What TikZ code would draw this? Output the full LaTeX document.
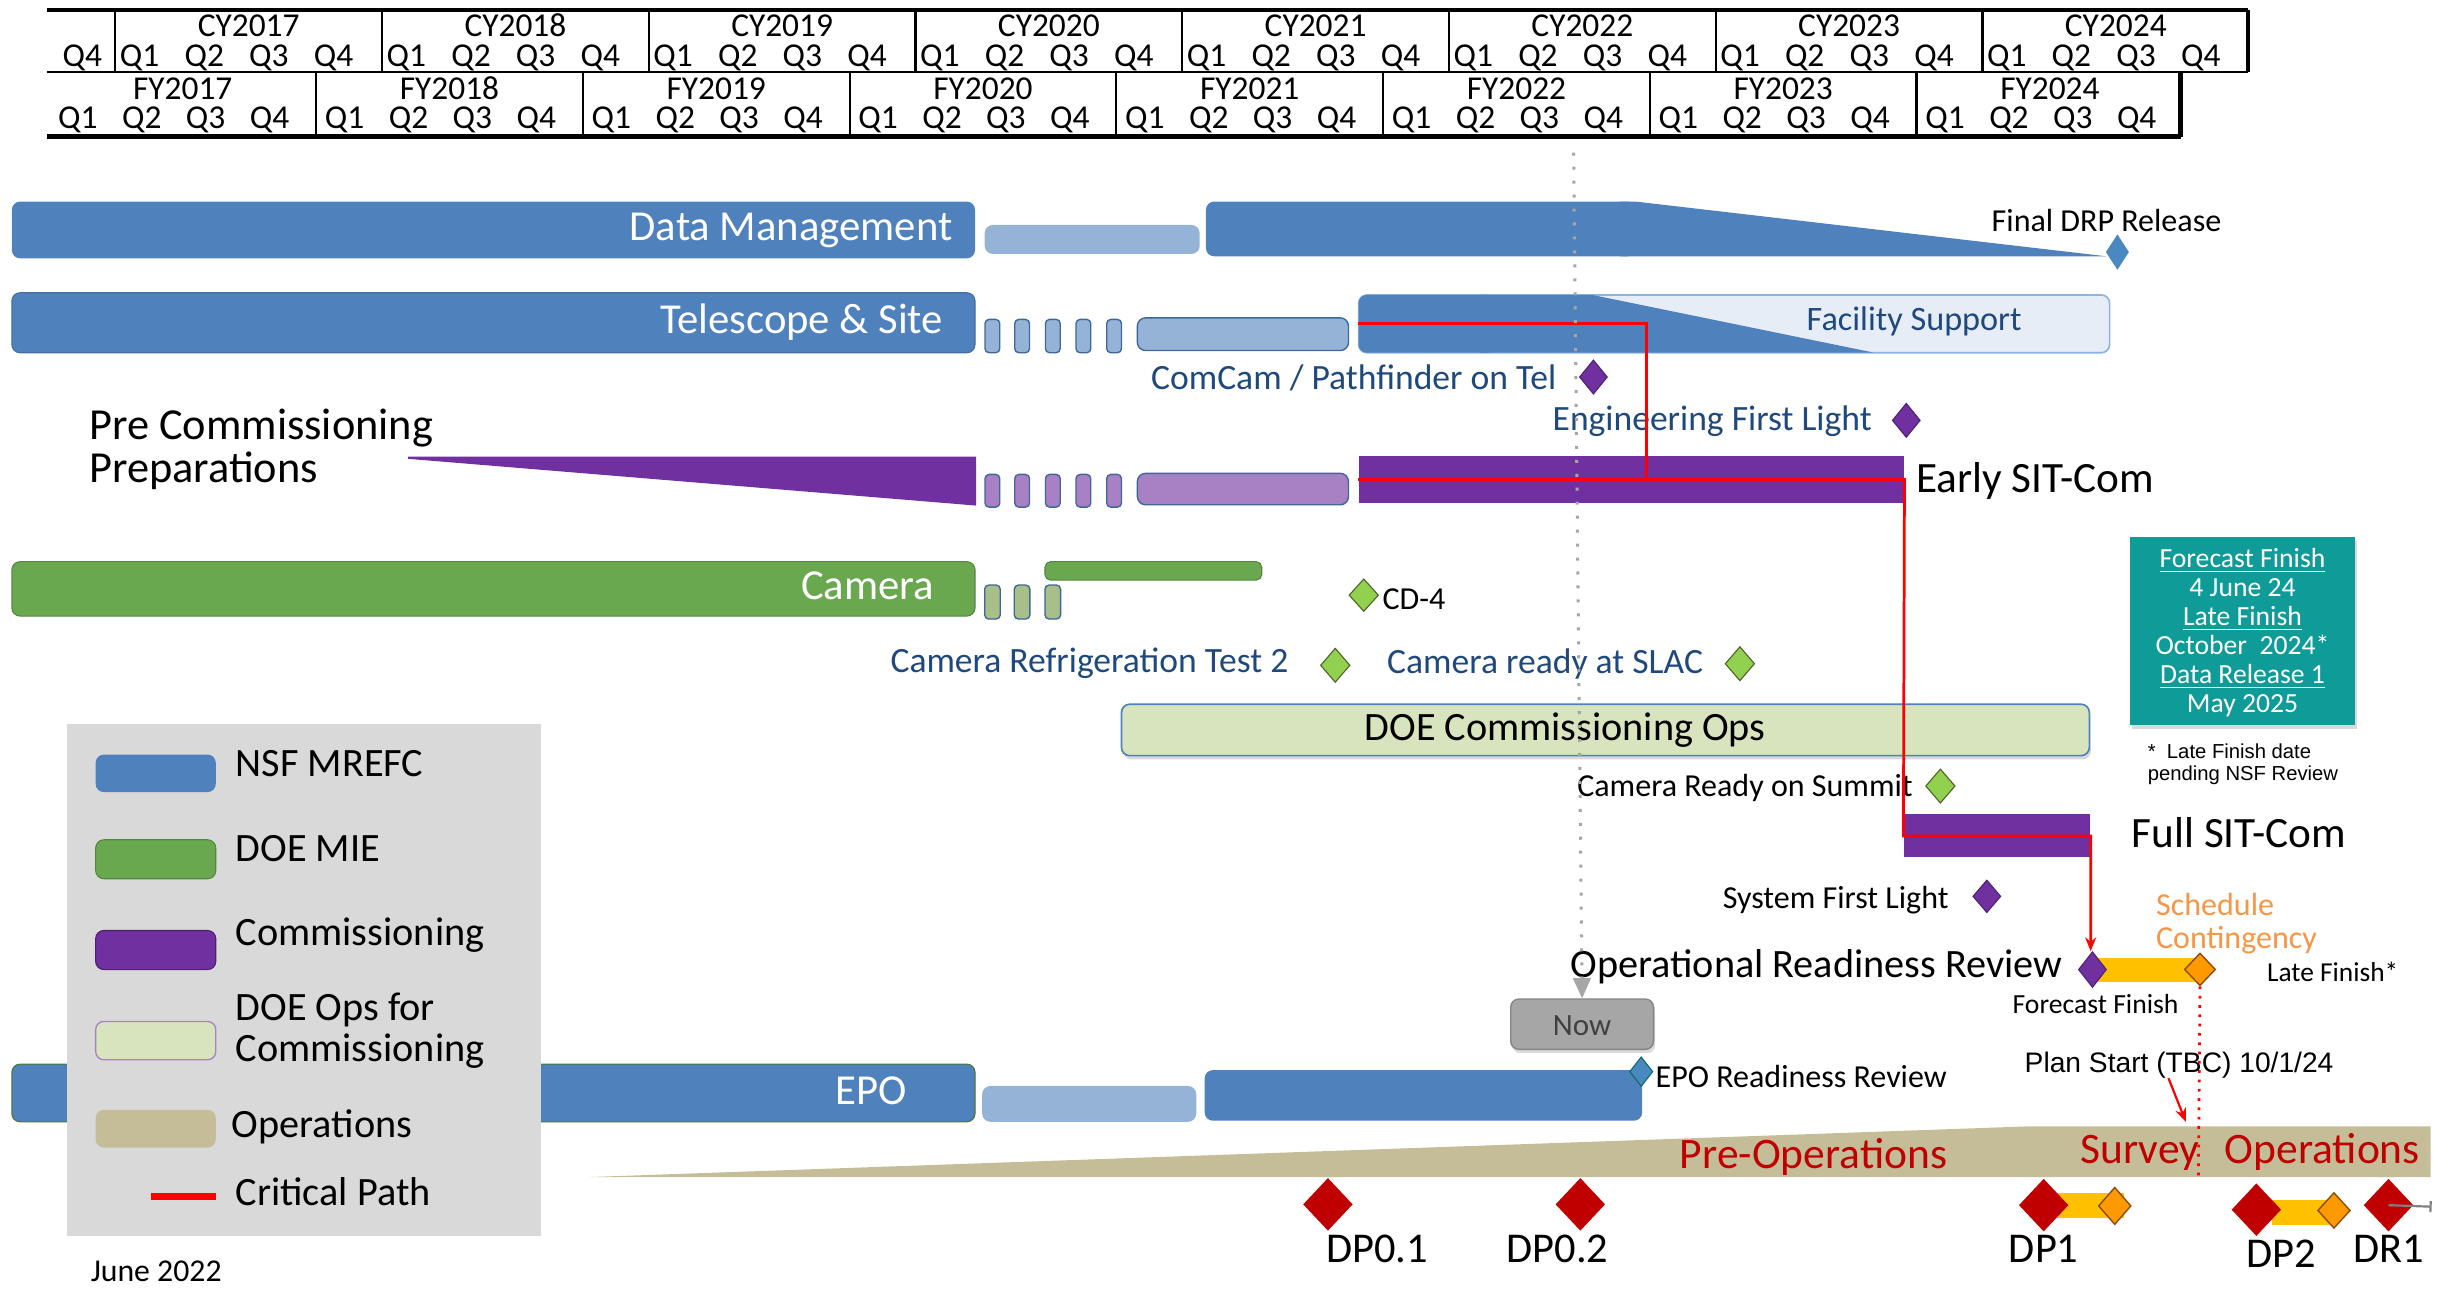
\documentclass[tikz,border=0pt]{standalone}
\usepackage{fontspec}
\setmainfont{Carlito}
\newfontfamily\arialfont{Liberation Sans}
\usepackage{tikz}
\usetikzlibrary{shapes.geometric,arrows.meta,fit,shadows}

\definecolor{nsfblue}{HTML}{4F81BD}
\definecolor{lightblue}{HTML}{95B3D7}
\definecolor{compurple}{HTML}{7030A0}
\definecolor{lightpurple}{HTML}{A781C3}
\definecolor{doegreen}{HTML}{6AA84F}
\definecolor{olivegreen}{HTML}{A9BF8A}
\definecolor{msgreen}{HTML}{92D050}
\definecolor{msgreenline}{HTML}{4F6228}
\definecolor{opsgreen}{HTML}{D7E4BD}
\definecolor{facfill}{HTML}{E6EDF7}
\definecolor{facline}{HTML}{8DB4E2}
\definecolor{opstan}{HTML}{C4BD97}
\definecolor{dpred}{HTML}{C00000}
\definecolor{contyellow}{HTML}{FFC000}
\definecolor{lateorange}{HTML}{FF9900}
\definecolor{lateline}{HTML}{8A4B08}
\definecolor{textblue}{HTML}{1F497D}
\definecolor{tealbox}{HTML}{0F9B98}
\definecolor{legendgray}{HTML}{D9D9D9}
\definecolor{nowgray}{HTML}{A6A6A6}
\definecolor{contorange}{HTML}{F79646}
\definecolor{drpblue}{HTML}{4A89BF}

\newcommand{\fsz}[2]{\fontsize{#1}{#2}\selectfont}

\begin{document}
\begin{tikzpicture}[x=0.02cm, y=-0.02cm,
    txt/.style={inner sep=0pt, text height=0.8em, text depth=0pt},
    hdr/.style={inner sep=0pt, text height=0.64em, text depth=0pt, font=\fsz{12.2}{12}},
    hdrline/.style={line width=0.8pt},
    hdrthick/.style={line width=1.6pt},
    bar/.style={inner sep=0pt, rounded corners=3pt},
    stepbar/.style={inner sep=0pt, rounded corners=1.5pt, fill=#1, draw=nsfblue!80!black, line width=0.5pt},
    barlabel/.style={txt, anchor=east, text=white, font=\fsz{15.6}{16}},
    tag/.style={txt, font=\fsz{11.7}{12}},
    bluetag/.style={txt, text=textblue, font=\fsz{13}{13}},
    bigtag/.style={txt, font=\fsz{15.8}{16}},
    keytext/.style={txt, anchor=west, font=\fsz{14.7}{15}},
    ms/.style={diamond, inner sep=0pt, minimum width=0.36cm, minimum height=0.44cm},
    purplems/.style={fill=compurple, draw=compurple!70!black, line width=0.4pt},
    greenms/.style={fill=msgreen, draw=msgreenline, line width=0.4pt},
    orangems/.style={fill=lateorange, draw=lateline, line width=0.5pt},
    dpms/.style={fill=dpred, minimum width=0.64cm, minimum height=0.68cm},
    dplabel/.style={txt, font=\fsz{15.5}{16}},
    opslabel/.style={txt, text=dpred, font=\fsz{15.9}{16}},
    critpath/.style={red, line width=1pt},
    nowline/.style={nowgray, line width=1.1pt, dash pattern=on 1.1pt off 4pt},
    softshadow/.style={drop shadow={opacity=0.3, shadow xshift=0.6pt, shadow yshift=-1.4pt}}
]
\useasboundingbox (0,0) rectangle (1568,828);

% calendar and fiscal year header
\draw[hdrthick] (30.2,6.4) -- (1443,6.4);
\draw[hdrline] (30.2,46) -- (1443,46);
\draw[hdrthick] (1443,6.4) -- (1443,46);
\draw[hdrthick] (30.2,87.7) -- (1399.6,87.7);
\draw[hdrthick] (1399.6,46) -- (1399.6,87.7);
\node[hdr] (cy2016-q4) at (52.9,37) {Q4};
\foreach \yr [count=\i from 0] in {2017,...,2024} {
  \draw[hdrline] (74+171.2*\i,6.4) -- (74+171.2*\i,46);
  \node[hdr] (cy\yr) at (159.6+171.2*\i,17.6) {CY\yr};
  \foreach \q in {1,...,4}
    \node[hdr] (cy\yr-q\q) at (89.6+171.2*\i+41.5*\q-41.5,37) {Q\q};
  \node[hdr] (fy\yr) at (117.3+171.2*\i,58) {FY\yr};
  \foreach \q in {1,...,4}
    \node[hdr] (fy\yr-q\q) at (50+171.2*\i+41*\q-41,77) {Q\q};
}
\foreach \i in {0,...,6}
  \draw[hdrline] (202.9+171.2*\i,46) -- (202.9+171.2*\i,87.7);

% data management
\node[bar, fill=nsfblue, fit={(7.6,129.4) (625.8,165.8)}] (dmbar) {};
\node[barlabel] (dmlabel) at (611.7,147.6) {Data Management};
\node[bar, fill=lightblue, fit={(632,144.4) (770,163)}] (dmgap) {};
\node[bar, fill=nsfblue, fit={(774,129.4) (1050,164.5)}] (dmrun) {};
\fill[nsfblue] (1040,129.4) -- (1050,129.4) -- (1352,164.5) -- (1040,164.5) -- cycle;
\node[ms, fill=drpblue, minimum width=0.3cm, minimum height=0.46cm] (drp) at (1359,161.8) {};
\node[tag] (drplabel) at (1352,141.6) {Final DRP Release};

% telescope and site
\node[bar, fill=nsfblue, draw=nsfblue!85!black, line width=0.4pt, fit={(7.6,187.9) (625.8,226.4)}] (tsbar) {};
\node[barlabel] (tslabel) at (605.7,207.2) {Telescope \& Site};
\foreach \x [count=\k] in {632.2,651.3,671,690.6,710.3}
  \node[stepbar=lightblue, fit={(\x,205) (\x+9.5,226.4)}] (tsstep\k) {};
\node[stepbar=lightblue, rounded corners=3pt, fit={(730,204) (865.5,225)}] (tsgap) {};
\node[bar, fill=facfill, draw=facline, line width=0.6pt, fit={(872,189.3) (1354,226.4)}] (facility) {};
\fill[nsfblue, rounded corners=3pt] (960,189.3) -- (872,189.3) -- (872,226.4) -- (960,226.4) -- cycle;
\fill[nsfblue] (950,189.3) -- (1022,189.3) -- (1203,226.4) -- (950,226.4) -- cycle;
\node[txt, text=textblue, font=\fsz{12.5}{13}] (faclabel) at (1228.6,205.4) {Facility Support};

\node[ms, purplems] (comcam) at (1022.7,242) {};
\node[bluetag, anchor=east] (comcamlabel) at (999.2,242.8) {ComCam / Pathfinder on Tel};
\node[ms, purplems] (efl) at (1223.5,269.8) {};
\node[bluetag, anchor=east] (efllabel) at (1201.7,269.1) {Engineering First Light};

% pre commissioning
\node[inner sep=0pt, anchor=west, align=left, font=\fsz{16.2}{15.8}] (prelabel) at (57,288.5) {Pre Commissioning\\Preparations};
\fill[compurple] (262,293) -- (626.5,293) -- (626.5,324.5) -- (262,294.5) -- cycle;
\foreach \x [count=\k] in {632.2,651.3,671,690.6,710.3}
  \node[stepbar=lightpurple, fit={(\x,304.5) (\x+9.5,325.5)}] (pcstep\k) {};
\node[stepbar=lightpurple, rounded corners=3pt, fit={(730,303.8) (865.5,324)}] (pcgap) {};
\node[fill=compurple, inner sep=0pt, fit={(872,292.5) (1222,323)}] (earlysit) {};
\node[bigtag, anchor=west] (earlylabel) at (1229.6,309) {Early SIT-Com};

% camera
\node[bar, fill=doegreen, draw=doegreen!80!black, line width=0.4pt, fit={(7.6,360.5) (625.8,395.4)}] (cambar) {};
\node[barlabel] (camlabel) at (600,378) {Camera};
\foreach \x [count=\k] in {632,651,670.7}
  \node[stepbar=olivegreen, fit={(\x,375.5) (\x+10,397.3)}] (camstep\k) {};
\node[bar, rounded corners=2pt, fill=doegreen, draw=doegreen!80!black, line width=0.4pt, fit={(670.7,360.5) (809.8,372.3)}] (camrun) {};
\node[ms, greenms, minimum width=0.38cm, minimum height=0.42cm] (cd4) at (875.3,382) {};
\node[tag, anchor=west] (cd4label) at (887,384) {CD-4};
\node[ms, greenms, minimum width=0.38cm, minimum height=0.44cm] (refrig) at (857,427) {};
\node[bluetag, anchor=east] (refriglabel) at (827.2,424.7) {Camera Refrigeration Test 2};
\node[ms, greenms, minimum width=0.38cm, minimum height=0.44cm] (slac) at (1116.7,426) {};
\node[bluetag, anchor=west] (slaclabel) at (890,425) {Camera ready at SLAC};

% commissioning
\node[bar, fill=opsgreen, draw=nsfblue, line width=0.6pt, softshadow, fit={(719.8,452) (1341,485)}] (doeops) {};
\node[txt, font=\fsz{14.7}{15}] (doelabel) at (1004.6,468.5) {DOE Commissioning Ops};
\node[ms, greenms, minimum width=0.38cm, minimum height=0.44cm] (summit) at (1245.4,504.5) {};
\node[tag, anchor=east] (summitlabel) at (1228,504.5) {Camera Ready on Summit};
\node[fill=compurple, inner sep=0pt, fit={(1222,522.7) (1341.5,550.3)}] (fullsit) {};
\node[bigtag, anchor=west] (fulllabel) at (1368,537) {Full SIT-Com};
\node[ms, purplems, minimum height=0.42cm] (sfl) at (1275.2,575.3) {};
\node[tag, anchor=east] (sfllabel) at (1251,576) {System First Light};

% forecast box
\node[fill=tealbox, inner sep=0pt, softshadow, fit={(1367,344.5) (1511.5,465.3)}] (forecastbox) {};
\node[inner sep=0pt, text=white, align=center, font=\fsz{10.1}{10.55}] (forecasttext) at (1439.3,406) {\underline{Forecast Finish}\\4 June 24\\\underline{Late Finish}\\October\ \ 2024*\\\underline{Data Release 1}\\May 2025};
\node[inner sep=0pt, anchor=west, align=left, font=\arialfont\fsz{7.4}{7.9}] (footnote) at (1378.2,490.5) {*\ \ Late Finish date\\pending NSF Review};

% readiness review
\node[fill=contyellow, inner sep=0pt, fit={(1345,614.7) (1411,630.5)}] (contbar) {};
\node[ms, purplems, minimum height=0.46cm] (orr) at (1343,622.3) {};
\node[ms, orangems, minimum width=0.4cm, minimum height=0.42cm] (late) at (1412,622.2) {};
\node[txt, anchor=east, font=\fsz{14.7}{15}] (orrlabel) at (1324,620.5) {Operational Readiness Review};
\node[txt, anchor=west, font=\fsz{10}{10}] (latelabel) at (1454.7,623) {Late Finish*};
\node[txt, font=\fsz{10.1}{10}] (fflabel) at (1345,643.6) {Forecast Finish};
\node[inner sep=0pt, anchor=west, align=left, text=contorange, font=\fsz{11.7}{12.2}] (contlabel) at (1383.5,593) {Schedule\\Contingency};

% critical path
\coordinate (cpjoin) at (1057,307.75);
\draw[critpath] (facility.west) -| (cpjoin);
\draw[critpath, -{Stealth[length=5pt,width=4pt]}] (earlysit.west) -- (earlysit.east) -- (fullsit.west) -- (fullsit.east) -- (fullsit.east |- orr.north);

% now marker
\node[bar, fill=nowgray, draw=nowgray!80!black, line width=0.5pt, softshadow, fit={(969.6,641.2) (1061.3,673.5)}] (now) {};
\node[txt, text=black!75, font=\fsz{11.3}{11}] (nowlabel) at (now.center) {Now};
\coordinate (nowtop) at (1010,98);
\draw[nowline, -{Triangle[length=7.4pt,width=6.4pt]}] (nowtop) -- (now.north);

% epo
\node[bar, fill=nsfblue, draw=doegreen!70!black, line width=0.4pt, fit={(7.6,683) (625.8,720)}] (epobar) {};
\node[barlabel] (epolabel) at (582.5,702) {EPO};
\node[bar, fill=lightblue, fit={(630.4,697) (767.8,720)}] (epogap) {};
\node[bar, fill=nsfblue, fit={(773.2,686.8) (1054,719.3)}] (eporun) {};
\node[ms, fill=drpblue, draw=tealbox!70!black, line width=0.4pt, minimum width=0.3cm, minimum height=0.38cm] (eporr) at (1053.4,687.8) {};
\node[tag, anchor=west] (eporrlabel) at (1062.3,691) {EPO Readiness Review};

% operations
\fill[opstan] (377.6,755.5) -- (1300,723) -- (1560,723) -- (1560,755.5) -- cycle;
\node[opslabel] (preopslabel) at (1164,743) {Pre-Operations};
\node[opslabel] (surveylabel) at (1373.4,740) {Survey};
\node[opslabel] (opslabel) at (1490.5,740) {Operations};
\coordinate (latebottom) at (1411,756);
\draw[red, line width=1pt, dash pattern=on 1pt off 2.4pt] (late.south) -- (latebottom);

\node[txt, font=\arialfont\fsz{10.3}{10}] (planstart) at (1398.6,681.4) {Plan Start (TBC) 10/1/24};
\coordinate (pstail) at (1391.8,692);
\coordinate (pshead) at (1402.9,720);
\draw[red, line width=0.8pt, -{Stealth[length=5pt,width=4pt]}] (pstail) -- (pshead);

% data previews and releases
\node[fill=contyellow, inner sep=0pt, fit={(1319.5,766) (1363.3,782)}] (dp1cont) {};
\node[fill=contyellow, inner sep=0pt, fit={(1458.4,770.4) (1496.3,786.5)}] (dp2cont) {};
\node[ms, dpms] (dp01) at (852.3,773) {};
\node[ms, dpms] (dp02) at (1014.3,773) {};
\node[ms, dpms] (dp1) at (1311.7,773.5) {};
\node[ms, orangems, minimum width=0.42cm, minimum height=0.48cm] (dp1late) at (1357.3,774) {};
\node[ms, dpms] (dp2) at (1448.2,776.4) {};
\node[ms, orangems, minimum width=0.42cm, minimum height=0.46cm] (dp2late) at (1498,776.9) {};
\node[ms, dpms] (dr1) at (1533,773.5) {};
\coordinate (dr1end) at (1560.7,774.5);
\draw[gray, line width=0.8pt, -{Bar[width=4pt]}] (dr1.center) -- (dr1end);
\node[dplabel] (dp01label) at (884,803.4) {DP0.1};
\node[dplabel] (dp02label) at (999.6,803.4) {DP0.2};
\node[dplabel] (dp1label) at (1311.7,803.4) {DP1};
\node[dplabel] (dp2label) at (1464,806.6) {DP2};
\node[dplabel] (dr1label) at (1532.9,803.4) {DR1};

% legend
\node[fill=legendgray, inner sep=0pt, fit={(42.8,465) (347.4,793)}] (legend) {};
\node[bar, fill=nsfblue, fit={(61.4,484.3) (138.5,508.4)}] (keynsf) {};
\node[keytext] (keynsflabel) at (151,491.5) {NSF MREFC};
\node[bar, fill=doegreen, draw=doegreen!80!black, line width=0.4pt, fit={(61.4,539) (138.5,564)}] (keymie) {};
\node[keytext] (keymielabel) at (151,545.8) {DOE MIE};
\node[bar, fill=compurple, draw=compurple!70!black, line width=0.4pt, fit={(61.4,597.2) (138.5,622.3)}] (keycom) {};
\node[keytext] (keycomlabel) at (151,600) {Commissioning};
\node[bar, fill=opsgreen, draw=compurple!60, line width=0.5pt, fit={(61.4,655.6) (138.5,680.2)}] (keydoe) {};
\node[inner sep=0pt, anchor=west, align=left, font=\fsz{14.7}{15.3}] (keydoelabel) at (151,661.5) {DOE Ops for\\Commissioning};
\node[bar, fill=opstan, fit={(61.4,712.3) (138.5,736.5)}] (keyops) {};
\node[keytext] (keyopslabel) at (148.5,723.2) {Operations};
\coordinate (keycrit1) at (96.7,767.8);
\coordinate (keycrit2) at (138.5,767.8);
\draw[red, line width=2.4pt] (keycrit1) -- (keycrit2);
\node[keytext] (keycritlabel) at (151,766.6) {Critical Path};
\node[txt, anchor=west, font=\fsz{11.6}{12}] (datelabel) at (57.9,815.6) {June 2022};
\end{tikzpicture}
\end{document}
